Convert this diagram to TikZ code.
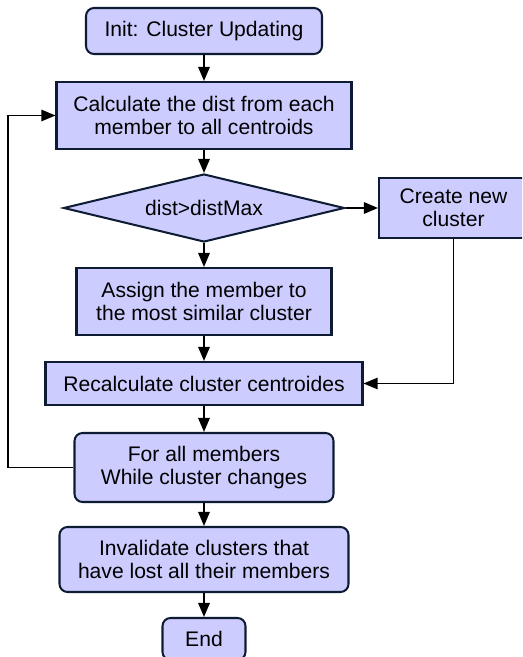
\documentclass[tikz,border=0pt]{standalone}
\usepackage{fontspec}
\setmainfont{Liberation Sans}
\usetikzlibrary{shapes.geometric,arrows.meta}
\definecolor{boxfill}{HTML}{CCCCFF}
\definecolor{boxline}{HTML}{0D1B33}

\begin{document}
\begin{tikzpicture}[
  >={Triangle[length=8pt,width=6.5pt]},
  box/.style={draw=boxline, fill=boxfill, line width=1.15pt, align=center, inner sep=0pt,
              font=\fontsize{12}{13.1}\selectfont},
  roundbox/.style={box, rounded corners=0.16cm},
  decision/.style={box, diamond, aspect=4.13},
  flow/.style={line width=1.1pt, ->},
  back/.style={line width=0.75pt, ->}]
\clip (0,0) rectangle (10.44,-13.14);
%
\node [roundbox, minimum width=4.72cm, minimum height=0.92cm] (init) at (4.08,-0.62) {Init: Cluster Updating};
\node [box, minimum width=5.90cm, minimum height=1.34cm] (calc) at (4.08,-2.31) {Calculate the dist from each\\member to all centroids};
\node [decision, minimum width=5.62cm, minimum height=1.36cm] (dist) at (4.08,-4.16) {dist>distMax};
\node [box, minimum width=2.98cm, minimum height=1.20cm] (create) at (9.07,-4.16) {Create new\\cluster};
\node [box, minimum width=5.10cm, minimum height=1.34cm] (assign) at (4.08,-6.03) {Assign the member to\\the most similar cluster};
\node [box, minimum width=6.34cm, minimum height=0.86cm] (recalc) at (4.08,-7.67) {Recalculate cluster centroides};
\node [roundbox, minimum width=5.18cm, minimum height=1.38cm] (forall) at (4.08,-9.35) {For all members\\While cluster changes};
\node [roundbox, minimum width=5.78cm, minimum height=1.30cm] (inval) at (4.08,-11.19) {Invalidate clusters that\\have lost all their members};
\node [roundbox, minimum width=1.66cm, minimum height=0.84cm] (end) at (4.08,-12.78) {End};
\coordinate (loop) at (0.16,-9.35);
%
\draw [flow] (init) -- (calc);
\draw [flow] (calc) -- (dist);
\draw [flow] (dist) -- (assign);
\draw [flow] (dist) -- (create);
\draw [flow] (assign) -- (recalc);
\draw [back] (create) |- (recalc);
\draw [flow] (recalc) -- (forall);
\draw [back] (forall) -- (loop) |- (calc);
\draw [flow] (forall) -- (inval);
\draw [flow] (inval) -- (end);
%%%%%%%%%%%%%%%%%%%%%%%%%%%%%%%
\end{tikzpicture}
\end{document}
